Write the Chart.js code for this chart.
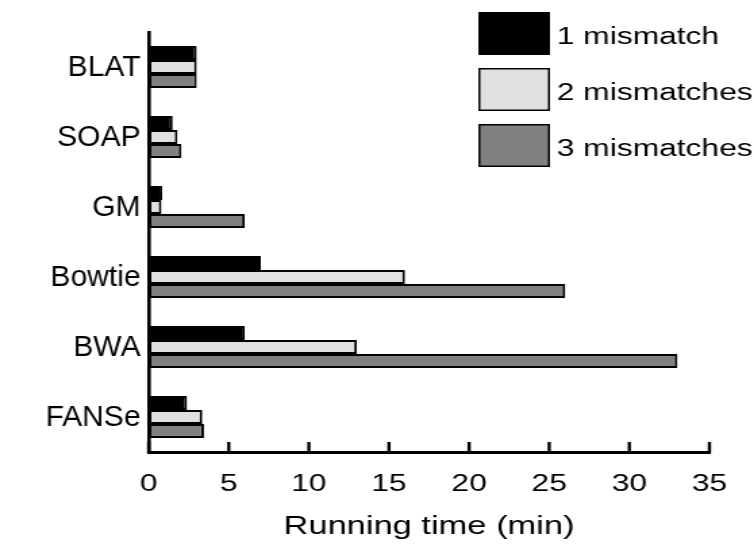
<!DOCTYPE html>
<html>
<head>
<meta charset="utf-8">
<script src="https://cdn.jsdelivr.net/npm/chart.js@4.4.1/dist/chart.umd.min.js"></script>
<style>
  html, body { margin: 0; padding: 0; background: #ffffff; overflow: hidden; }
  /* The figure is drawn on a narrower canvas and widened horizontally */
  #wrap {
    width: 558px;
    height: 552px;
    transform: scaleX(1.3513);
    transform-origin: 0 0;
  }
</style>
</head>
<body>
<div id="wrap"><canvas id="chart" width="558" height="552"></canvas></div>
<script>
// Aligners compared by running time (minutes)
const aligners = ['BLAT', 'SOAP', 'GM', 'Bowtie', 'BWA', 'FANSe'];
const oneMismatch     = [3.0, 1.5, 0.85, 7.0, 6.0, 2.4];
const twoMismatches   = [3.0, 1.8, 0.8, 16.0, 13.0, 3.35];
const threeMismatches = [3.0, 2.05, 6.0, 26.0, 33.0, 3.45];
const seriesNames = ['1 mismatch', '2 mismatches', '3 mismatches'];
const xTicks = [0, 5, 10, 15, 20, 25, 30, 35];
const xTitle = 'Running time (min)';

const FONT = '"Liberation Sans", Arial, sans-serif';
const fills = ['#000000', '#e0e0e0', '#808080'];
const STRETCH = 754 / 558;

// Short tick marks pointing up from the x axis into the plot
const innerTicks = {
  id: 'innerTicks',
  afterDraw(chart) {
    const x = chart.scales.x;
    const ctx = chart.ctx;
    ctx.save();
    ctx.strokeStyle = '#000';
    ctx.lineWidth = 2.4;
    ctx.lineCap = 'butt';
    for (const t of x.ticks) {
      const px = x.getPixelForValue(t.value);
      ctx.beginPath();
      ctx.moveTo(px, x.top + 1);
      ctx.lineTo(px, x.top - 10);
      ctx.stroke();
    }
    ctx.restore();
  }
};

// Category names drawn at natural proportions beside the y axis
const categoryLabels = {
  id: 'categoryLabels',
  afterDraw(chart) {
    const y = chart.scales.y;
    const ctx = chart.ctx;
    ctx.save();
    ctx.font = '30px ' + FONT;
    ctx.fillStyle = '#000';
    ctx.textAlign = 'right';
    ctx.textBaseline = 'middle';
    y.ticks.forEach((t, i) => {
      const py = y.getPixelForTick(i);
      ctx.save();
      ctx.translate(y.right - 6, py + 1);
      ctx.scale(1 / STRETCH, 1);
      ctx.fillText(y.getLabelForValue(t.value), 0, 0);
      ctx.restore();
    });
    ctx.restore();
  }
};

// Legend boxes stacked in the top-right corner
const boxLegend = {
  id: 'boxLegend',
  afterDraw(chart) {
    const ctx = chart.ctx;
    const left = 354, top = 12, w = 53, h = 43, step = 56;
    ctx.save();
    ctx.font = '23.5px ' + FONT;
    ctx.textBaseline = 'middle';
    ctx.textAlign = 'left';
    chart.data.datasets.forEach((ds, i) => {
      const y = top + i * step;
      ctx.fillStyle = ds.backgroundColor;
      ctx.fillRect(left, y, w, h);
      ctx.strokeStyle = '#000';
      ctx.lineWidth = 1.5;
      ctx.strokeRect(left + 0.75, y + 0.75, w - 1.5, h - 1.5);
      ctx.fillStyle = '#000';
      ctx.fillText(ds.label, left + w + 5, y + h / 2 + 4);
    });
    ctx.restore();
  }
};

const values = [oneMismatch, twoMismatches, threeMismatches];

new Chart(document.getElementById('chart'), {
  type: 'bar',
  data: {
    labels: aligners,
    datasets: seriesNames.map((name, i) => ({
      label: name,
      data: values[i],
      backgroundColor: fills[i],
      borderColor: '#000000',
      borderWidth: 2,
      borderSkipped: false,
      categoryPercentage: 0.6,
      barPercentage: 1.0
    }))
  },
  options: {
    indexAxis: 'y',
    responsive: false,
    animation: false,
    devicePixelRatio: 1,
    layout: { padding: { top: 32, right: 33, left: 0, bottom: 0 } },
    plugins: {
      legend: { display: false },
      tooltip: { enabled: false }
    },
    scales: {
      x: {
        min: 0,
        max: 35,
        afterBuildTicks(scale) {
          scale.ticks = xTicks.map(v => ({ value: v }));
        },
        afterFit(scale) { scale.height = 100; },
        grid: { display: false, drawTicks: false },
        border: { display: true, color: '#000', width: 3 },
        ticks: {
          color: '#000',
          font: { family: FONT, size: 23.5 },
          padding: 18,
          maxRotation: 0
        },
        title: {
          display: true,
          text: xTitle,
          color: '#000',
          font: { family: FONT, size: 25.5 },
          padding: { top: 0, bottom: 10 }
        }
      },
      y: {
        afterFit(scale) { scale.width = 110; },
        grid: { display: false, drawTicks: false },
        border: { display: true, color: '#000', width: 2.6 },
        ticks: { display: false }
      }
    }
  },
  plugins: [innerTicks, categoryLabels, boxLegend]
});
</script>
</body>
</html>
